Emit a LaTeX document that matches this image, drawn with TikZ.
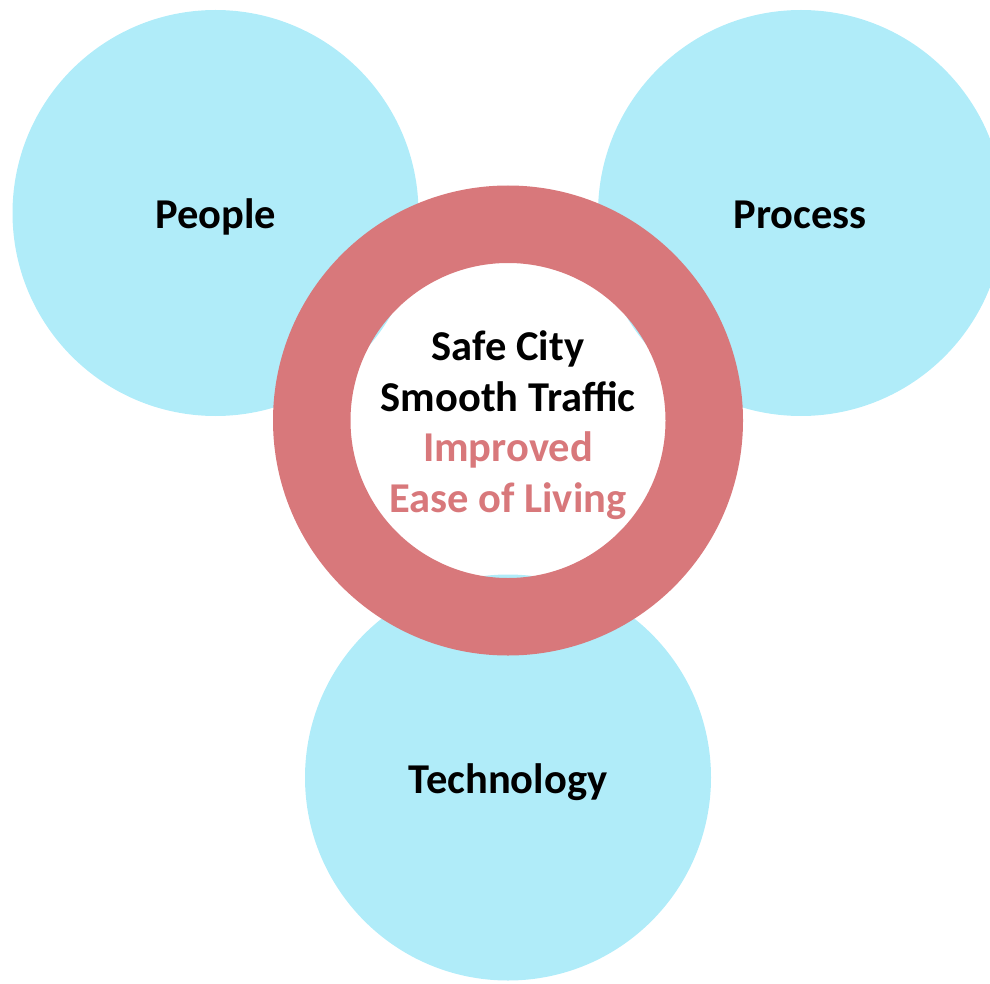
\documentclass[tikz,border=0pt]{standalone}
\usepackage{fontspec}
\setmainfont{Carlito}
\definecolor{petal}{HTML}{B0ECF9}
\definecolor{ringred}{HTML}{D8787B}
\begin{document}
\begin{tikzpicture}[x=1pt,y=-1pt,
  petalc/.style={circle, fill=petal, draw=none, minimum size=406pt, inner sep=0pt},
  lbl/.style={anchor=base, font=\fontsize{42.5}{50}\selectfont\bfseries, inner sep=0pt},
  redlbl/.style={lbl, text=ringred},
]
\useasboundingbox (0,0) rectangle (990,984);
\begin{scope}
\clip (0,0) rectangle (990,984);
\node[petalc] (people) at (215.5,213) {};
\node[petalc] (process) at (801,213) {};
\node[petalc] (tech) at (508,777.5) {};
\coordinate (ringc) at (508,420.5);
\fill[ringred, even odd rule] (ringc) circle[radius=235] (ringc) circle[radius=157.5];
\end{scope}
\node[lbl] (tpeople) at (215.5,228.5) {People};
\node[lbl] (tprocess) at (800,228.5) {Process};
\node[lbl] (ttech) at (508,793) {Technology};
\node[lbl] (c1) at (508,360.5) {Safe City};
\node[lbl] (c2) at (508,411) {Smooth Traffic};
\node[redlbl] (c3) at (508,461.5) {Improved};
\node[redlbl] (c4) at (508,512) {Ease of Living};
\end{tikzpicture}
\end{document}
